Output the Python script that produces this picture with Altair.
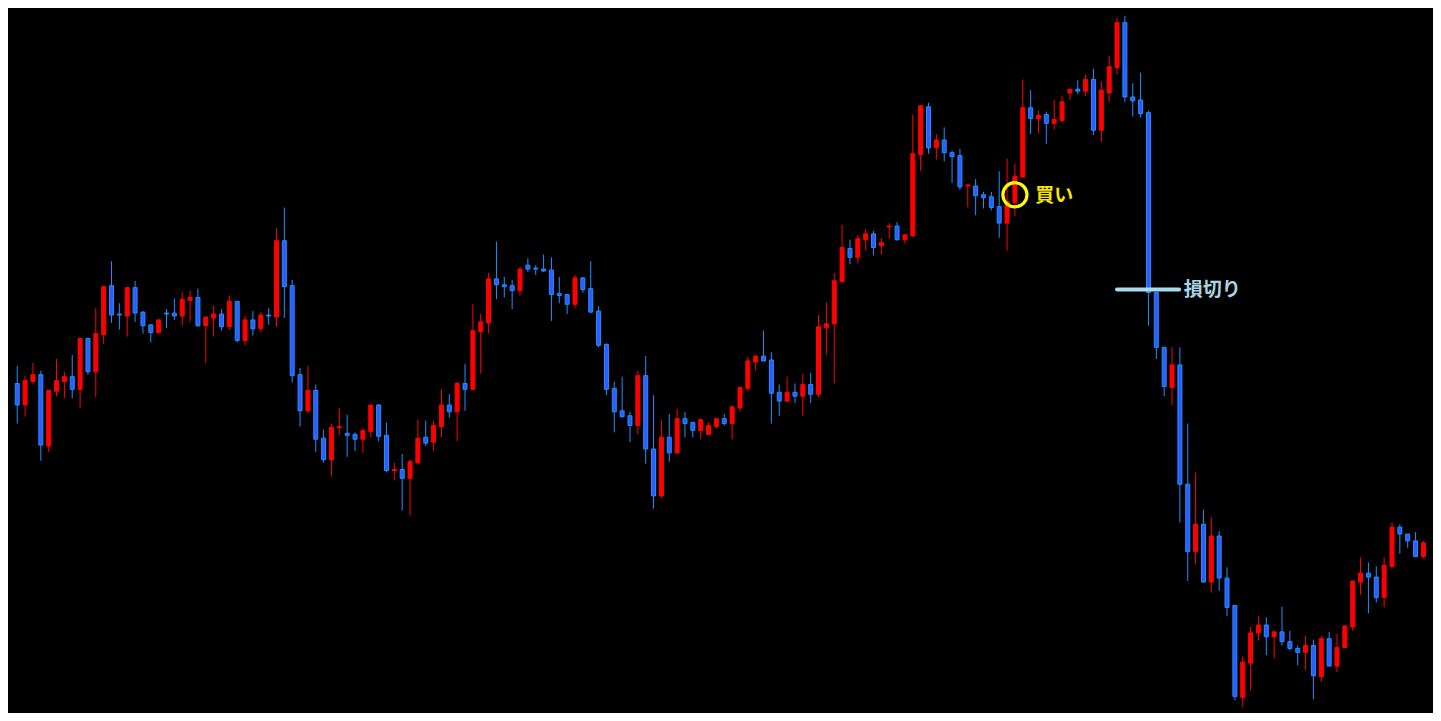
import altair as alt
import pandas as pd

# Candle OHLC values (arbitrary price units)
opens = [337, 315, 339, 346, 273, 329, 339, 344, 331, 383, 349, 387, 437, 408, 406, 435, 410, 397, 389, 409,
         409, 406, 422, 425, 396, 404, 408, 395, 421, 381, 402, 393, 407, 405, 483, 437, 346, 309, 330, 281,
         259, 292, 286, 285, 280, 288, 315, 284, 248, 249, 240, 256, 282, 277, 293, 315, 308, 337, 331, 390,
         399, 444, 438, 437, 432, 458, 455, 454, 453, 429, 428, 418, 445, 434, 411, 377, 332, 309, 304, 294,
         345, 270, 222, 282, 266, 301, 297, 289, 285, 293, 301, 296, 312, 332, 359, 365, 361, 328, 319, 328,
         324, 336, 326, 394, 398, 441, 475, 466, 484, 490, 478, 497, 498, 484, 488, 571, 620, 578, 586, 573,
         570, 539, 539, 530, 528, 518, 501, 522, 548, 619, 608, 612, 603, 606, 634, 638, 636, 648, 596, 634,
         660, 706, 630, 627, 614, 430, 374, 333, 356, 234, 165, 193, 134, 181, 138, 110, 16, 51, 82, 90,
         78, 83, 73, 66, 62, 69, 37, 76, 48, 67, 88, 134, 143, 139, 118, 150, 190, 183, 176, 160]
highs = [355, 345, 358, 350, 330, 362, 349, 366, 383, 384, 414, 437, 462, 419, 435, 442, 411, 397, 403, 413,
         424, 431, 432, 434, 405, 417, 413, 427, 421, 406, 411, 410, 414, 496, 517, 443, 353, 355, 336, 290,
         296, 312, 305, 287, 291, 315, 316, 297, 256, 265, 259, 300, 299, 299, 331, 326, 339, 357, 418, 408,
         450, 482, 446, 443, 456, 465, 458, 469, 466, 446, 428, 448, 446, 462, 416, 378, 339, 344, 308, 350,
         365, 325, 300, 306, 311, 308, 298, 300, 297, 301, 306, 315, 333, 364, 366, 391, 369, 336, 344, 337,
         347, 348, 407, 420, 450, 499, 484, 489, 495, 493, 486, 501, 502, 490, 612, 621, 624, 592, 599, 575,
         577, 541, 546, 533, 533, 554, 567, 562, 648, 637, 616, 615, 627, 631, 638, 647, 653, 659, 646, 672,
         711, 713, 644, 655, 616, 430, 374, 374, 374, 296, 246, 208, 200, 186, 149, 110, 58, 88, 99, 98,
         84, 109, 84, 69, 79, 75, 79, 83, 81, 90, 135, 159, 154, 150, 159, 195, 193, 183, 185, 176]
lows = [296, 303, 336, 258, 267, 324, 322, 322, 312, 346, 323, 377, 399, 392, 385, 400, 388, 379, 389, 394,
        402, 396, 400, 395, 358, 385, 391, 392, 379, 376, 386, 389, 397, 395, 404, 338, 293, 307, 267, 256,
        242, 284, 262, 268, 266, 282, 278, 246, 238, 207, 202, 254, 273, 268, 282, 302, 278, 309, 331, 347,
        388, 423, 425, 413, 427, 451, 448, 451, 401, 419, 408, 414, 430, 409, 374, 325, 287, 302, 277, 285,
        255, 209, 220, 257, 265, 282, 282, 280, 284, 291, 294, 280, 308, 329, 350, 360, 296, 304, 318, 317,
        304, 317, 323, 366, 337, 441, 459, 460, 473, 468, 469, 485, 483, 480, 487, 554, 572, 566, 564, 542,
        535, 517, 509, 516, 514, 486, 473, 508, 548, 592, 593, 582, 597, 604, 627, 633, 631, 591, 584, 625,
        653, 625, 610, 609, 396, 362, 324, 315, 195, 135, 152, 133, 123, 125, 99, 13, 6, 23, 74, 59,
        56, 69, 64, 49, 44, 14, 32, 48, 42, 67, 84, 121, 102, 113, 108, 148, 163, 169, 160, 158]
closes = [315, 340, 346, 274, 330, 340, 344, 331, 383, 349, 388, 436, 407, 407, 435, 409, 396, 389, 402, 408,
          406, 423, 425, 396, 405, 408, 395, 421, 381, 402, 393, 407, 406, 483, 436, 345, 309, 330, 280, 259,
          292, 293, 284, 280, 289, 315, 283, 248, 249, 240, 257, 281, 276, 294, 315, 308, 337, 331, 391, 400,
          444, 438, 436, 432, 454, 454, 454, 452, 428, 427, 418, 445, 433, 410, 376, 331, 308, 303, 294, 345,
          270, 222, 282, 266, 301, 296, 289, 300, 294, 301, 296, 313, 333, 360, 365, 360, 327, 319, 328, 324,
          336, 326, 395, 398, 442, 476, 466, 485, 490, 476, 481, 498, 484, 489, 572, 621, 578, 586, 573, 569,
          538, 540, 529, 527, 517, 501, 523, 549, 619, 608, 611, 603, 607, 625, 638, 636, 648, 596, 637, 661,
          706, 630, 626, 613, 430, 374, 334, 356, 234, 165, 193, 134, 181, 138, 108, 17, 52, 82, 90, 78,
          83, 73, 66, 62, 69, 38, 76, 48, 67, 89, 135, 143, 139, 118, 151, 190, 183, 176, 160, 174]

# Annotations
buy_index = [127]
buy_price = [530]
buy_label = ["買い"]
buy_label_index = [129.6]
stop_start = [140]
stop_end = [147.9]
stop_price = [433]
stop_label = ["損切り"]
stop_label_index = [148.5]

df = pd.DataFrame({
    "i": list(range(len(opens))),
    "open": opens, "high": highs, "low": lows, "close": closes,
})
df["dir"] = ["up" if c >= o else "down" for o, c in zip(opens, closes)]

xs = alt.Scale(domain=[-0.541, 179.584], nice=False, zero=False)
ys = alt.Scale(domain=[0, 721], nice=False, zero=False)
X = alt.X("i:Q", scale=xs, axis=None)

dir_scale_wick = alt.Scale(domain=["up", "down"], range=["#FF0000", "#1E90FF"])
dir_scale_fill = alt.Scale(domain=["up", "down"], range=["#FF0000", "#2F5BFF"])

base = alt.Chart(df)

wicks = base.mark_rule(strokeWidth=1).encode(
    x=X,
    y=alt.Y("low:Q", scale=ys, axis=None),
    y2="high:Q",
    color=alt.Color("dir:N", scale=dir_scale_wick, legend=None),
)

bodies = base.mark_bar(size=4, strokeWidth=1).encode(
    x=X,
    y=alt.Y("open:Q", scale=ys, axis=None),
    y2="close:Q",
    fill=alt.Fill("dir:N", scale=dir_scale_fill, legend=None),
    stroke=alt.Stroke("dir:N", scale=dir_scale_wick, legend=None),
)

buy_df = pd.DataFrame({"i": buy_index, "p": buy_price, "li": buy_label_index, "t": buy_label})
buy_circle = alt.Chart(buy_df).mark_point(
    shape="circle", size=580, filled=False, stroke="#FFFF00", strokeWidth=3.2, opacity=1
).encode(x=X, y=alt.Y("p:Q", scale=ys, axis=None))
buy_text = alt.Chart(buy_df).mark_text(
    align="left", baseline="middle", font="Noto Sans CJK JP", fontSize=19, fontWeight="bold",
    color="#F7E500", dy=1
).encode(x=alt.X("li:Q", scale=xs, axis=None), y=alt.Y("p:Q", scale=ys, axis=None), text="t:N")

stop_df = pd.DataFrame({"a": stop_start, "b": stop_end, "p": stop_price, "li": stop_label_index, "t": stop_label})
stop_line = alt.Chart(stop_df).mark_rule(stroke="#A8DDEE", strokeWidth=4, strokeCap="round").encode(
    x=alt.X("a:Q", scale=xs, axis=None), x2="b:Q", y=alt.Y("p:Q", scale=ys, axis=None)
)
stop_text = alt.Chart(stop_df).mark_text(
    align="left", baseline="middle", font="Noto Sans CJK JP", fontSize=19, fontWeight="bold",
    color="#A8D4E2"
).encode(x=alt.X("li:Q", scale=xs, axis=None), y=alt.Y("p:Q", scale=ys, axis=None), text="t:N")

# The page adds an 8px margin on each side, so the chart fills the rest of the 1441x721 window.
chart = alt.layer(wicks, bodies, buy_circle, buy_text, stop_line, stop_text).properties(
    width=1425, height=705, padding=0, background="#000000",
).configure_view(stroke=None)

chart.save("out.html", embed_options={"renderer": "svg", "actions": False})
